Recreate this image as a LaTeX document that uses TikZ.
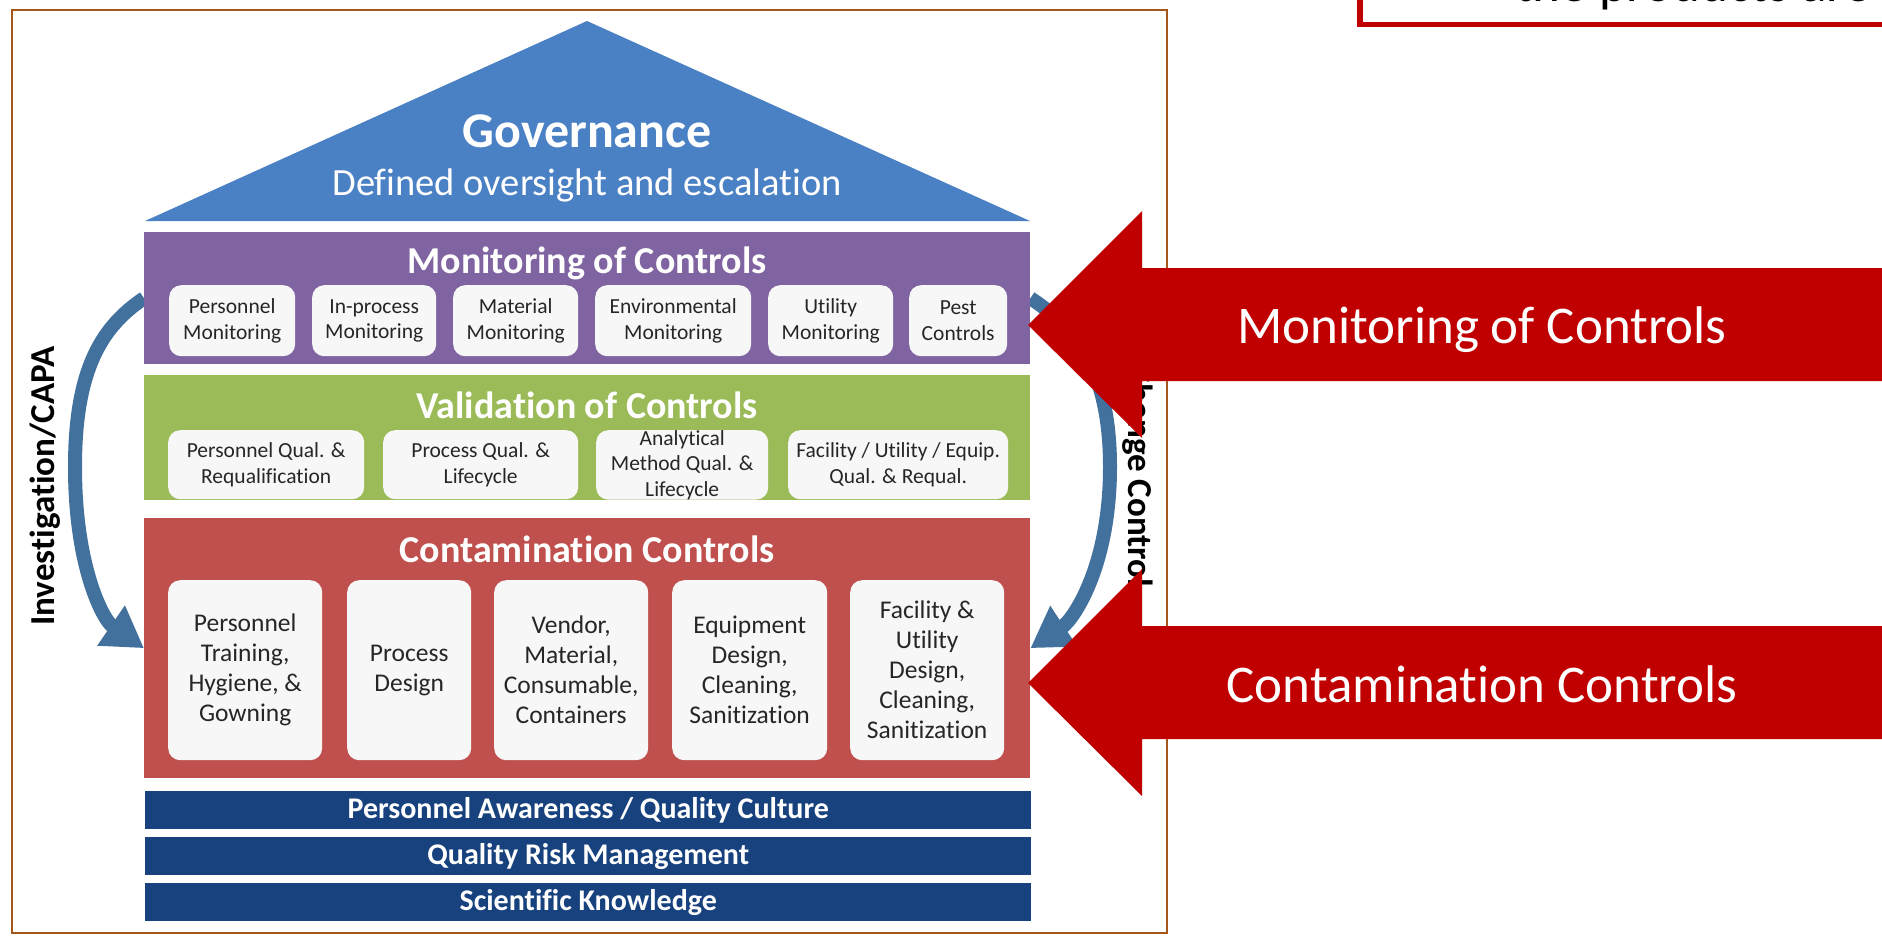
\documentclass[tikz,border=0pt]{standalone}
\usepackage{fontspec}
\setmainfont{Carlito}[Ligatures={NoCommon}]
\usetikzlibrary{arrows.meta,calc}
\newcommand\pxfont[2]{\fontsize{#1}{#2}\selectfont}

\definecolor{roofblue}{HTML}{4A80C4}
\definecolor{monpurple}{HTML}{8064A2}
\definecolor{valgreen}{HTML}{9BBB59}
\definecolor{conred}{HTML}{C0504D}
\definecolor{basenavy}{HTML}{17427E}
\definecolor{boxgray}{HTML}{F7F7F7}
\definecolor{arcblue}{HTML}{41719C}
\definecolor{calloutred}{HTML}{C00000}
\definecolor{framebrown}{HTML}{A5561B}

\pgfdeclarelayer{back}
\pgfdeclarelayer{arcs}
\pgfsetlayers{back,arcs,main}

\begin{document}
\begin{tikzpicture}[x=1pt,y=-1pt,
  band/.style={anchor=north west, inner sep=0pt, minimum width=886pt},
  baseband/.style={band, fill=basenavy, minimum height=38pt, text=white,
    font=\pxfont{30}{34}\bfseries},
  sub/.style={anchor=north west, fill=boxgray, rounded corners=12pt,
    inner sep=0pt, align=center, text=black!85, font=\pxfont{21.5}{25.5}},
  bigsub/.style={sub, minimum height=180pt, font=\pxfont{25.5}{30}},
  bandtitle/.style={anchor=base, text=white, font=\pxfont{38}{44}\bfseries},
  sidelabel/.style={anchor=base, text=black, font=\pxfont{35}{40}\bfseries},
  loop/.style={draw=arcblue, line width=14pt,
    -{Triangle[length=40pt,width=46pt]}},
  callout/.style={fill=calloutred},
  callouttext/.style={anchor=base, text=white, font=\pxfont{53}{60}}
]
\path[use as bounding box] (0,0) rectangle (1882,937);
\clip (0,0) rectangle (1882,937);

% page background and frame around the house
\begin{pgfonlayer}{back}
  \fill[white] (0,0) rectangle (1882,937);
  \draw[framebrown, line width=2.5pt] (12,10) rectangle (1167,933);
\end{pgfonlayer}

% box at the top right, running off the page
\draw[calloutred, line width=5.5pt] (1360,-40) rectangle (1940,24.5);
\node[anchor=base west, inner sep=0pt, font=\pxfont{53}{60}] (topnote)
  at (1515,1) {the products are};

% roof
\fill[roofblue] (145,221) -- (587,21) -- (1030,221) -- cycle;
\node[anchor=base, text=white, font=\pxfont{50}{56}\bfseries] (gov)
  at (587,147) {Governance};
\node[anchor=base, text=white, font=\pxfont{38.5}{44}] (govsub)
  at (587,195) {Defined oversight and escalation};

% layers of the house
\node[band, fill=monpurple, minimum height=132pt] (mon) at (144,232) {};
\node[band, fill=valgreen, minimum height=125pt] (val) at (144,375) {};
\node[band, fill=conred, minimum height=260pt] (con) at (144,518) {};

\node[bandtitle] (montitle) at (587,273) {Monitoring of Controls};
\node[bandtitle] (valtitle) at (587,418) {Validation of Controls};
\node[bandtitle] (contitle) at (587,562) {Contamination Controls};

% monitoring items
\node[sub, minimum width=126pt, minimum height=71pt] (pm)  at (169,285) {Personnel\\Monitoring};
\node[sub, minimum width=124pt, minimum height=71pt] (ipm) at (312,285) {In-process\\Monitoring};
\node[sub, minimum width=125pt, minimum height=71pt] (mm)  at (453,285) {Material\\Monitoring};
\node[sub, minimum width=156pt, minimum height=71pt] (em)  at (595,285) {Environmental\\Monitoring};
\node[sub, minimum width=125pt, minimum height=71pt] (um)  at (768,285) {Utility\\Monitoring};
\node[sub, minimum width=98pt,  minimum height=71pt] (pc)  at (909,285) {Pest\\Controls};

% validation items
\node[sub, minimum width=196pt, minimum height=69pt] (pq)  at (168,430) {Personnel Qual. \&\\Requalification};
\node[sub, minimum width=195pt, minimum height=69pt] (prq) at (383,430) {Process Qual. \&\\Lifecycle};
\node[sub, minimum width=172pt, minimum height=69pt] (amq) at (596,430) {Analytical\\Method Qual. \&\\Lifecycle};
\node[sub, minimum width=220pt, minimum height=69pt] (fq)  at (788,430) {Facility / Utility / Equip.\\Qual. \& Requal.};

% contamination control items
\node[bigsub, minimum width=154pt] (ptr) at (168,580) {Personnel\\Training,\\Hygiene, \&\\Gowning};
\node[bigsub, minimum width=124pt] (pd)  at (347,580) {Process\\Design};
\node[bigsub, minimum width=154pt] (vm)  at (494,580) {Vendor,\\Material,\\Consumable,\\Containers};
\node[bigsub, minimum width=155pt] (ed)  at (672,580) {Equipment\\Design,\\Cleaning,\\Sanitization};
\node[bigsub, minimum width=154pt] (fd)  at (850,580) {Facility \&\\Utility\\Design,\\Cleaning,\\Sanitization};

% foundation
\node[baseband] (pa)  at (145,791) {Personnel Awareness / Quality Culture};
\node[baseband] (qrm) at (145,837) {Quality Risk Management};
\node[baseband] (sk)  at (145,883) {Scientific Knowledge};

% feedback loops behind the house
\begin{pgfonlayer}{arcs}
  \draw[loop] (mon.west) .. controls (103,326) and (75,367) .. (75,467)
    .. controls (75,567) and (103,620) .. (con.west);
  \draw[loop] (mon.east) .. controls (1073,326) and (1110,367) .. (1110,467)
    .. controls (1110,567) and (1073,620) .. (con.east);
\end{pgfonlayer}

\node[sidelabel, rotate=90] (capa) at (54,486) {Investigation/CAPA};
\node[sidelabel, rotate=-90] (cc) at (1128,476) {Change Control};

% call-out arrows
\fill[callout] (1028,325) -- (1142,211) -- (1142,268) -- (1900,268)
  -- (1900,381) -- (1142,381) -- (1142,438) -- cycle;
\node[callouttext] (monlabel) at (1482,343) {Monitoring of Controls};

\fill[callout] (1028,683) -- (1142,569) -- (1142,626) -- (1900,626)
  -- (1900,739) -- (1142,739) -- (1142,796) -- cycle;
\node[callouttext] (conlabel) at (1482,702) {Contamination Controls};
\end{tikzpicture}
\end{document}
